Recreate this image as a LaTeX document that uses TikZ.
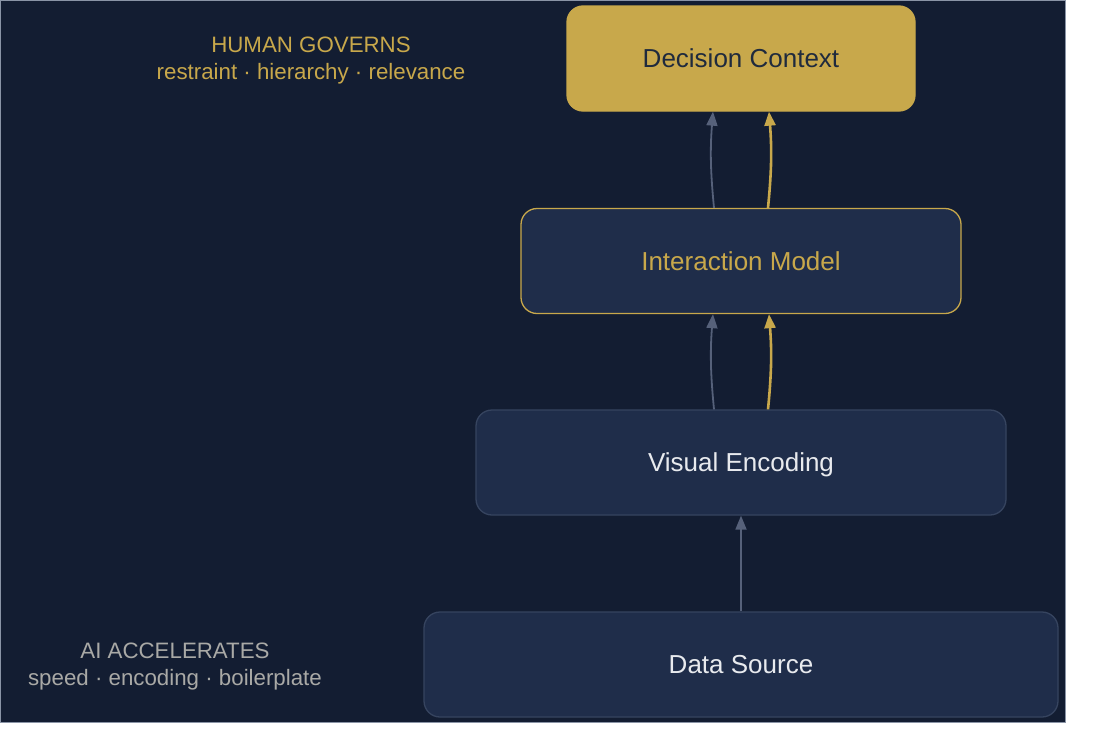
\documentclass[tikz,border=0pt]{standalone}
\usepackage{fontspec}
\setmainfont{Liberation Sans}
\usetikzlibrary{arrows.meta,calc}
\definecolor{bgc}{HTML}{131D32}
\definecolor{boxc}{HTML}{1F2D4A}
\definecolor{boxline}{HTML}{36445F}
\definecolor{goldc}{HTML}{C8A84B}
\definecolor{lighttext}{HTML}{E8EAEE}
\definecolor{graytext}{HTML}{A9A9A6}
\definecolor{arrowgray}{HTML}{56617A}
\definecolor{darktext}{HTML}{1F2A3D}
\definecolor{edgec}{HTML}{8A94A6}
\tikzset{
  stage/.style={rounded corners=16pt, minimum height=105pt, inner sep=0pt,
    text height=18.5pt, text depth=0pt,
    font=\fontsize{26}{30}\selectfont, line width=1.3pt},
  darkstage/.style={stage, fill=boxc, draw=boxline, text=lighttext},
  flowgray/.style={draw=arrowgray, line width=1.8pt, -{Triangle[length=14pt,width=11pt]}},
  flowgold/.style={draw=goldc, line width=2.6pt, -{Triangle[length=14pt,width=11pt]}},
  annot/.style={align=center, font=\fontsize{22.3}{27}\selectfont}
}
\begin{document}
\begin{tikzpicture}[x=1pt,y=-1pt]
\useasboundingbox (0,0) rectangle (1100,747);
\fill[white] (0,0) rectangle (1100,747);
\draw[fill=bgc, draw=edgec, line width=0.6pt] (0,0) rectangle (1065,722);

\node[stage, fill=goldc, draw=goldc, text=darktext, minimum width=348pt] (dec) at (741,58.5) {Decision Context};
\node[darkstage, draw=goldc, text=goldc, minimum width=440pt] (int) at (741,261) {Interaction Model};
\node[darkstage, minimum width=530pt] (vis) at (741,462.5) {Visual Encoding};
\node[darkstage, minimum width=634pt] (dat) at (741,664.5) {Data Source};

\draw[flowgray] (dat.north) -- (vis.south);
\draw[flowgray] ([xshift=-27pt]vis.north) to[bend left=5] ([xshift=-28pt]int.south);
\draw[flowgold] ([xshift=27pt]vis.north) to[bend right=5] ([xshift=28pt]int.south);
\draw[flowgray] ([xshift=-27pt]int.north) to[bend left=5] ([xshift=-28pt]dec.south);
\draw[flowgold] ([xshift=27pt]int.north) to[bend right=5] ([xshift=28pt]dec.south);

\node[annot, text=goldc] (human) at (311,61) {HUMAN GOVERNS\\restraint · hierarchy · relevance};
\node[annot, text=graytext] (ai) at (175,667) {AI ACCELERATES\\speed · encoding · boilerplate};
\end{tikzpicture}
\end{document}
